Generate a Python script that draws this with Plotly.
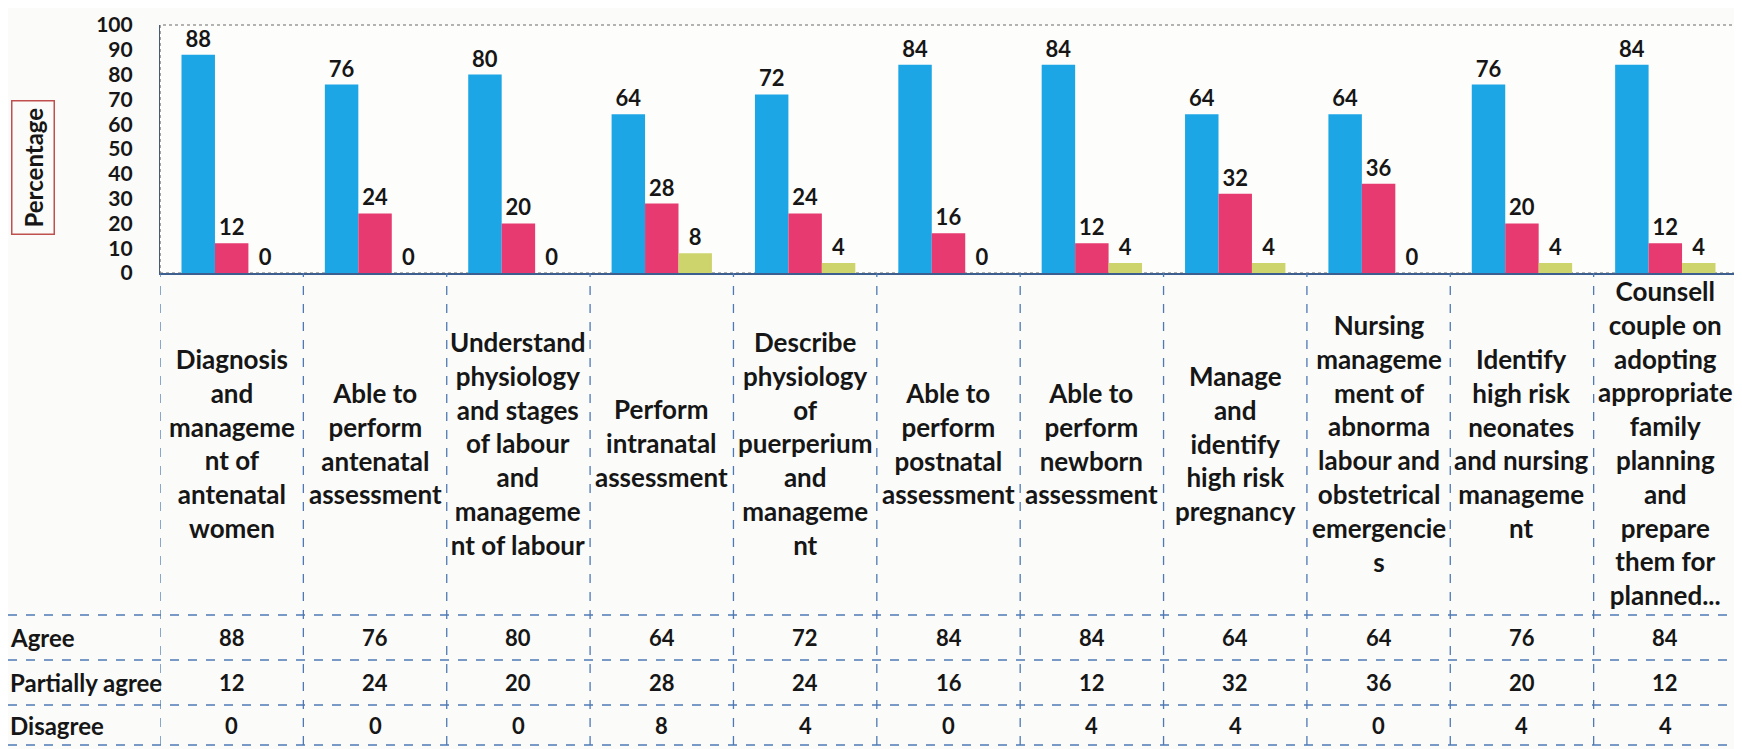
import plotly.graph_objects as go

categories = [
    "Diagnosis<br>and<br>manageme<br>nt of<br>antenatal<br>women",
    "Able to<br>perform<br>antenatal<br>assessment",
    "Understand<br>physiology<br>and stages<br>of labour<br>and<br>manageme<br>nt of labour",
    "Perform<br>intranatal<br>assessment",
    "Describe<br>physiology<br>of<br>puerperium<br>and<br>manageme<br>nt",
    "Able to<br>perform<br>postnatal<br>assessment",
    "Able to<br>perform<br>newborn<br>assessment",
    "Manage<br>and<br>identify<br>high risk<br>pregnancy",
    "Nursing<br>manageme<br>ment of<br>abnorma<br>labour and<br>obstetrical<br>emergencie<br>s",
    "Identify<br>high risk<br>neonates<br>and nursing<br>manageme<br>nt",
    "Counsell<br>couple on<br>adopting<br>appropriate<br>family<br>planning<br>and<br>prepare<br>them for<br>planned...",
]
agree = [88, 76, 80, 64, 72, 84, 84, 64, 64, 76, 84]
partially_agree = [12, 24, 20, 28, 24, 16, 12, 32, 36, 20, 12]
disagree = [0, 0, 0, 8, 4, 0, 4, 4, 0, 4, 4]
series_names = ["Agree", "Partially agree", "Disagree"]
y_ticks = list(range(0, 101, 10))

colors = ["#1ca6e6", "#e63a70", "#cdd46c"]
font_family = "Lato, 'Open Sans', sans-serif"
ink = "#161616"
grid_blue = "#4f79b5"

W, H = 1742, 749
OFF = 8  # page body margin


def px(v):
    return (v - OFF) / W


def py(v):
    return 1 - (v - OFF) / H


fig = go.Figure()
for name, vals, col in zip(series_names, [agree, partially_agree, disagree], colors):
    fig.add_trace(go.Bar(
        x=list(range(len(categories))), y=vals, name=name,
        marker=dict(color=col, line=dict(width=0)),
        text=[f"<b>{v}</b>" for v in vals], textposition="outside",
        textfont=dict(size=22, color=ink, family=font_family),
        cliponaxis=False,
    ))

fig.update_layout(
    width=W, height=H,
    barmode="group", bargap=0.3, bargroupgap=0.0,
    showlegend=False,
    paper_bgcolor="#fbfbf9", plot_bgcolor="#fdfdfb",
    margin=dict(l=0, r=0, t=0, b=0, autoexpand=False),
    font=dict(family=font_family, color=ink),
    uniformtext=dict(minsize=8, mode="show"),
)
fig.update_xaxes(
    domain=[px(160), px(1737)], range=[-0.5, len(categories) - 0.5],
    showticklabels=False, showgrid=False, zeroline=False, automargin=False,
    showline=True, linecolor="#3d5f8f", linewidth=1.5, ticks="",
)
fig.update_yaxes(
    domain=[py(273), py(25)], range=[0, 100], automargin=False,
    tickvals=y_ticks, ticktext=[f"<b>{t}</b>" for t in y_ticks],
    tickfont=dict(size=21, color=ink, family=font_family),
    showgrid=False, zeroline=False, showline=True, linecolor="#4a5a70",
    linewidth=1.2, ticks="", ticklabelstandoff=22,
)

# plot area dotted border (top & right)
fig.add_shape(type="rect", xref="x domain", yref="y domain", x0=0, x1=1, y0=0, y1=1,
              line=dict(color="#6a6a6a", width=1.2, dash="dot"), layer="below")

# y-axis title in a red box
fig.add_annotation(
    x=px(33), y=py(168), xref="paper", yref="paper", text="<b>Percentage</b>",
    xanchor="center", yanchor="middle",
    textangle=-90, showarrow=False, font=dict(size=24, color=ink, family=font_family),
    bordercolor="#c0504d", borderwidth=1.5, borderpad=6, bgcolor="rgba(0,0,0,0)",
)

# table grid
row_lines = [615, 660, 705, 745]
for yl in row_lines:
    fig.add_shape(type="line", xref="paper", yref="paper", x0=0, x1=px(1737),
                  y0=py(yl), y1=py(yl), line=dict(color=grid_blue, width=1.3, dash="dash"))
for i in range(len(categories) + 1):
    fig.add_shape(type="line", xref="x", yref="paper", x0=i - 0.5, x1=i - 0.5,
                  y0=py(745), y1=py(273), line=dict(color=grid_blue, width=1.3, dash="dash"))

# category labels
for i, cat in enumerate(categories):
    fig.add_annotation(x=i, y=py(443), xref="x", yref="paper", text=f"<b>{cat}</b>",
                       showarrow=False, xanchor="center", yanchor="middle", align="center",
                       font=dict(size=26, color=ink, family=font_family))

# value rows
row_centers = [637, 682, 725]
for name, vals, yc in zip(series_names, [agree, partially_agree, disagree], row_centers):
    fig.add_annotation(x=0, y=py(yc), xref="paper", yref="paper", text=f"<b>{name}</b>",
                       showarrow=False, xanchor="left", yanchor="middle",
                       font=dict(size=24, color=ink, family=font_family))
    for i, v in enumerate(vals):
        fig.add_annotation(x=i, y=py(yc), xref="x", yref="paper", text=f"<b>{v}</b>",
                           showarrow=False, xanchor="center", yanchor="middle",
                           font=dict(size=22, color=ink, family=font_family))

fig.write_html("out.html")
